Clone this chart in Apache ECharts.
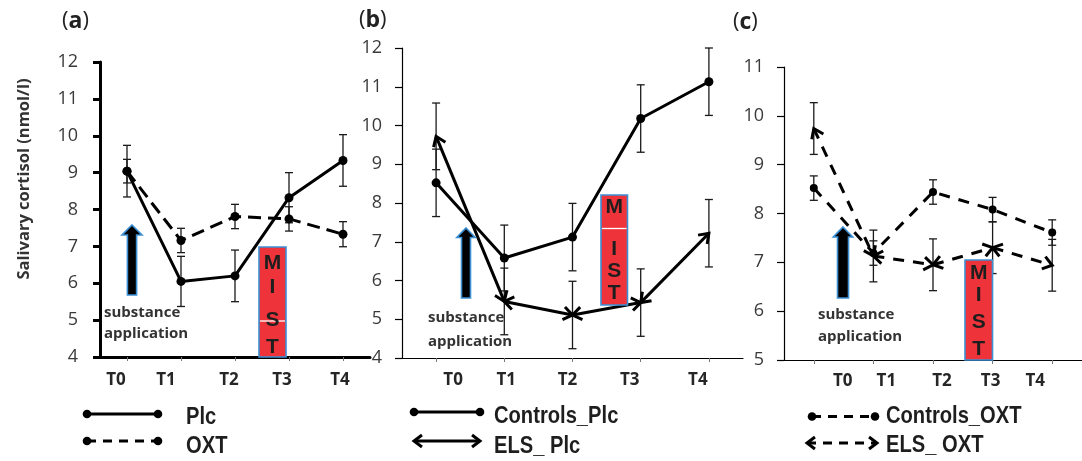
<!DOCTYPE html>
<html><head><meta charset="utf-8">
<script src="https://cdn.jsdelivr.net/npm/echarts@6/dist/echarts.min.js"></script>
<style>html,body{margin:0;padding:0;background:#fff}#c{width:1082px;height:461px}</style>
</head><body><div id="c"></div>
<script>
// ---------- data ----------
const categories = ['T0', 'T1', 'T2', 'T3', 'T4'];
const yTicksA = [4, 5, 6, 7, 8, 9, 10, 11, 12];
const yTicksB = [4, 5, 6, 7, 8, 9, 10, 11, 12];
const yTicksC = [5, 6, 7, 8, 9, 10, 11];

// panel (a)
const plcA = [9.04, 6.05, 6.2, 8.32, 9.33];
const plcErrA = [0.7, 0.68, 0.7, 0.68, 0.7];
const oxtA = [9.04, 7.16, 7.81, 7.745, 7.33];
const oxtErrA = [0.32, 0.33, 0.33, 0.33, 0.34];

// panel (b)
const ctrlPlcB = [8.52, 6.58, 7.12, 10.18, 11.13];
const ctrlPlcErrB = [0.87, 0.85, 0.87, 0.87, 0.87];
const elsPlcB = [9.72, 5.46, 5.11, 5.43, 7.22];
const elsPlcErrB = [0.86, 0.86, 0.87, 0.87, 0.87];

// panel (c)
const ctrlOxtC = [8.52, 7.19, 8.44, 8.08, 7.61];
const ctrlOxtErrC = [0.25, 0.25, 0.25, 0.25, 0.26];
const elsOxtC = [9.74, 7.13, 6.95, 7.3, 6.94];
const elsOxtErrC = [0.53, 0.53, 0.53, 0.53, 0.53];

const legendNames = ['Plc', 'OXT', 'Controls_Plc', 'ELS_ Plc', 'Controls_OXT', 'ELS_ OXT'];

// ---------- helpers ----------
const FONT = '"Open Sans", "Noto Sans", sans-serif';
const LEGFONT = '"Liberation Sans", Arial, sans-serif';

function errData(v, e) { return v.map((m, i) => [i, m - e[i], m + e[i]]); }
function segData(v) { return v.slice(1).map((m, i) => [i, v[i], i + 1, m]); }

function errRender(params, api) {
  const lo = api.coord([api.value(0), api.value(1)]);
  const hi = api.coord([api.value(0), api.value(2)]);
  const w = 4;
  const st = { stroke: '#1a1a1a', lineWidth: 1.3 };
  return { type: 'group', children: [
    { type: 'line', shape: { x1: lo[0], y1: lo[1], x2: hi[0], y2: hi[1] }, style: st },
    { type: 'line', shape: { x1: lo[0] - w, y1: lo[1], x2: lo[0] + w, y2: lo[1] }, style: st },
    { type: 'line', shape: { x1: hi[0] - w, y1: hi[1], x2: hi[0] + w, y2: hi[1] }, style: st }
  ]};
}

function chevPts(tip, from, L, a) {
  const dx = tip[0] - from[0], dy = tip[1] - from[1];
  const len = Math.hypot(dx, dy) || 1;
  const bx = -dx / len, by = -dy / len;
  const c = Math.cos(a), s = Math.sin(a);
  return [
    [tip[0] + L * (bx * c - by * s), tip[1] + L * (bx * s + by * c)],
    [tip[0], tip[1]],
    [tip[0] + L * (bx * c + by * s), tip[1] + L * (-bx * s + by * c)]
  ];
}

function makeSegRender(dash) {
  return function (params, api) {
    const p0 = api.coord([api.value(0), api.value(1)]);
    const p1 = api.coord([api.value(2), api.value(3)]);
    const ls = { stroke: '#000', lineWidth: 3, fill: null };
    if (dash) ls.lineDash = dash;
    const cs = { stroke: '#000', lineWidth: 3, fill: null };
    return { type: 'group', children: [
      { type: 'line', shape: { x1: p0[0], y1: p0[1], x2: p1[0], y2: p1[1] }, style: ls },
      { type: 'polyline', shape: { points: chevPts(p0, p1, 11, 0.62) }, style: cs },
      { type: 'polyline', shape: { points: chevPts(p1, p0, 11, 0.62) }, style: cs }
    ]};
  };
}

function yAxis(grid, ticks, thick, margin) {
  return {
    type: 'value', gridIndex: grid, min: ticks[0], max: ticks[ticks.length - 1], interval: 1,
    splitLine: { show: false },
    axisLine: { show: true, lineStyle: { color: '#000', width: thick ? 3 : 1.2 } },
    axisTick: { show: true, length: 7, lineStyle: { color: '#000', width: thick ? 3 : 1.2 } },
    axisLabel: { color: '#3a3a3a', fontSize: 18, fontFamily: FONT, margin: margin,
      formatter: v => ticks.indexOf(v) >= 0 ? String(v) : '' }
  };
}

function xAxis(grid, thick, margin, offsets) {
  const rich = {};
  offsets.forEach((o, i) => {
    rich['o' + i] = { fontSize: 17, fontWeight: 'bold', fontFamily: FONT, color: '#262626',
      padding: o >= 0 ? [0, 0, 0, 2 * o] : [0, -2 * o, 0, 0] };
  });
  return {
    type: 'category', gridIndex: grid, data: categories, boundaryGap: true,
    axisLine: { show: true, lineStyle: { color: '#000', width: thick ? 3 : 1.2 } },
    axisTick: { show: true, alignWithLabel: true, length: 4, lineStyle: { color: '#777', width: 1 } },
    axisLabel: { interval: 0, margin: margin, formatter: (v, i) => '{o' + i + '|' + v + '}', rich: rich }
  };
}

function lineSeries(name, x, y, data, dash, size) {
  return {
    name: name, type: 'line', xAxisIndex: x, yAxisIndex: y, data: data,
    symbol: 'circle', symbolSize: size, showSymbol: true, z: 4,
    itemStyle: { color: '#000' },
    lineStyle: { color: '#000', width: 3, type: dash || 'solid' }
  };
}
function errSeries(x, y, data) {
  return { type: 'custom', xAxisIndex: x, yAxisIndex: y, data: data, renderItem: errRender,
    encode: { x: 0, y: [1, 2] }, z: 3, silent: true };
}
function segSeries(name, x, y, data, dash) {
  return { name: name, type: 'custom', xAxisIndex: x, yAxisIndex: y, data: data,
    renderItem: makeSegRender(dash), encode: { x: [0, 2], y: [1, 3] }, z: 5, silent: true };
}

// ---------- decorations ----------
function arrow(cx, tip, headBase, bottom, headHalf, shaftHalf) {
  return { type: 'polygon', z: 10, shape: { points: [
    [cx, tip], [cx + headHalf, headBase], [cx + shaftHalf, headBase], [cx + shaftHalf, bottom],
    [cx - shaftHalf, bottom], [cx - shaftHalf, headBase], [cx - headHalf, headBase]] },
    style: { fill: '#000', stroke: '#3b8fd4', lineWidth: 1.6 } };
}
function mist(x0, x1, y0, y1, ys, whiteY) {
  const els = [{ type: 'rect', z: 10, shape: { x: x0, y: y0, width: x1 - x0, height: y1 - y0 },
    style: { fill: '#ee343a', stroke: '#3b8fd4', lineWidth: 1.6 } }];
  if (whiteY != null) els.push({ type: 'line', z: 11, shape: { x1: x0 + 1, y1: whiteY, x2: x1 - 1, y2: whiteY },
    style: { stroke: '#fff', lineWidth: 1.3 } });
  'MIST'.split('').forEach((ch, i) => els.push({ type: 'text', z: 12, x: (x0 + x1) / 2, y: ys[i],
    style: { text: ch, fill: '#1e1e1e', font: 'bold 21px "Liberation Sans", Arial, sans-serif',
      align: 'center', verticalAlign: 'middle' } }));
  return els;
}
function subst(x, y1, y2) {
  const f = 'bold 15px ' + FONT;
  return [
    { type: 'text', z: 12, x: x, y: y1, style: { text: 'substance', font: f, fill: '#333', verticalAlign: 'middle' } },
    { type: 'text', z: 12, x: x, y: y2, style: { text: 'application', font: f, fill: '#333', verticalAlign: 'middle' } }
  ];
}
function panelTitle(x, y, letter) {
  return { type: 'text', x: x, y: y, style: { text: '{p|(}{b|' + letter + '}{p|)}', verticalAlign: 'middle',
    rich: { p: { fontSize: 22, fontFamily: FONT, fill: '#222', color: '#222' },
            b: { fontSize: 23, fontFamily: FONT, fontWeight: 'bold', fill: '#222', color: '#222' } } } };
}
function legLine(x0, x1, y, dash, dots) {
  const els = [{ type: 'line', shape: { x1: x0, y1: y, x2: x1, y2: y },
    style: { stroke: '#000', lineWidth: 3, lineDash: dash || null } }];
  if (dots) {
    els.push({ type: 'circle', shape: { cx: x0, cy: y, r: 4.3 }, style: { fill: '#000' } });
    els.push({ type: 'circle', shape: { cx: x1, cy: y, r: 4.3 }, style: { fill: '#000' } });
  } else {
    els.push({ type: 'polyline', shape: { points: chevPts([x0, y], [x1, y], 10, 0.65) }, style: { stroke: '#000', lineWidth: 3, fill: null } });
    els.push({ type: 'polyline', shape: { points: chevPts([x1, y], [x0, y], 10, 0.65) }, style: { stroke: '#000', lineWidth: 3, fill: null } });
  }
  return els;
}
function legText(x, y, t) {
  return { type: 'text', x: x, y: y, scaleX: 0.84, style: { text: t, font: 'bold 24px ' + LEGFONT, fill: '#1e1e1e', verticalAlign: 'middle' } };
}

const graphics = [].concat(
  [panelTitle(62, 21, 'a'), panelTitle(359, 20, 'b'), panelTitle(733, 22, 'c')],
  [{ type: 'text', x: 24, y: 179, rotation: Math.PI / 2,
     style: { text: 'Salivary cortisol (nmol/l)', font: 'bold 16.5px ' + FONT, fill: '#333', align: 'center', verticalAlign: 'middle' } }],
  [arrow(132, 225, 235, 295, 10, 4.6), arrow(466, 228, 237.5, 298, 9.2, 4.5), arrow(843, 227, 237, 298, 9.7, 5.5)],
  mist(259, 286, 247, 357, [263, 287, 320, 347], 321),
  mist(601, 627.5, 195, 305, [207, 249, 271, 293], 228.5),
  mist(965, 992.5, 260, 360, [273, 295, 322, 349], null),
  subst(104, 313, 334), subst(428, 318, 341.5), subst(818, 315, 337),
  legLine(87, 158, 414, null, true), legText(186, 417.5, legendNames[0]),
  legLine(87, 158, 441, [9, 7], true), legText(186, 446.5, legendNames[1]),
  legLine(414, 480, 412, null, true), legText(494, 416.5, legendNames[2]),
  legLine(414, 480, 441, null, false), legText(494, 446, legendNames[3]),
  legLine(812, 875, 416.5, [9, 7], true), legText(886, 416.5, legendNames[4]),
  legLine(807, 877, 443, [9, 7], false), legText(886, 445, legendNames[5])
);

const option = {
  animation: false,
  backgroundColor: '#fff',
  grid: [
    { left: 100, top: 62, width: 270, height: 295 },
    { left: 402, top: 48, width: 341, height: 310 },
    { left: 784, top: 67, width: 308, height: 293 }
  ],
  xAxis: [
    xAxis(0, true, 15, [-11, -15, -6, -7, -3]),
    xAxis(1, false, 14, [17, 2, -5, -11, -11]),
    xAxis(2, false, 13, [29, 13, 9, -2, -17])
  ],
  yAxis: [yAxis(0, yTicksA, true, 22), yAxis(1, yTicksB, false, 20), yAxis(2, yTicksC, false, 20)],
  series: [
    errSeries(0, 0, errData(plcA, plcErrA)),
    errSeries(0, 0, errData(oxtA, oxtErrA)),
    lineSeries(legendNames[0], 0, 0, plcA, 'solid', 9),
    lineSeries(legendNames[1], 0, 0, oxtA, [13, 7], 9),

    errSeries(1, 1, errData(ctrlPlcB, ctrlPlcErrB)),
    errSeries(1, 1, errData(elsPlcB, elsPlcErrB)),
    lineSeries(legendNames[2], 1, 1, ctrlPlcB, 'solid', 9),
    segSeries(legendNames[3], 1, 1, segData(elsPlcB), null),

    errSeries(2, 2, errData(ctrlOxtC, ctrlOxtErrC)),
    errSeries(2, 2, errData(elsOxtC, elsOxtErrC)),
    lineSeries(legendNames[4], 2, 2, ctrlOxtC, [11, 9], 8),
    segSeries(legendNames[5], 2, 2, segData(elsOxtC), [11, 9])
  ],
  graphic: graphics
};

const chart = echarts.init(document.getElementById('c'), null, { renderer: 'canvas' });
chart.setOption(option);
</script>
</body></html>
